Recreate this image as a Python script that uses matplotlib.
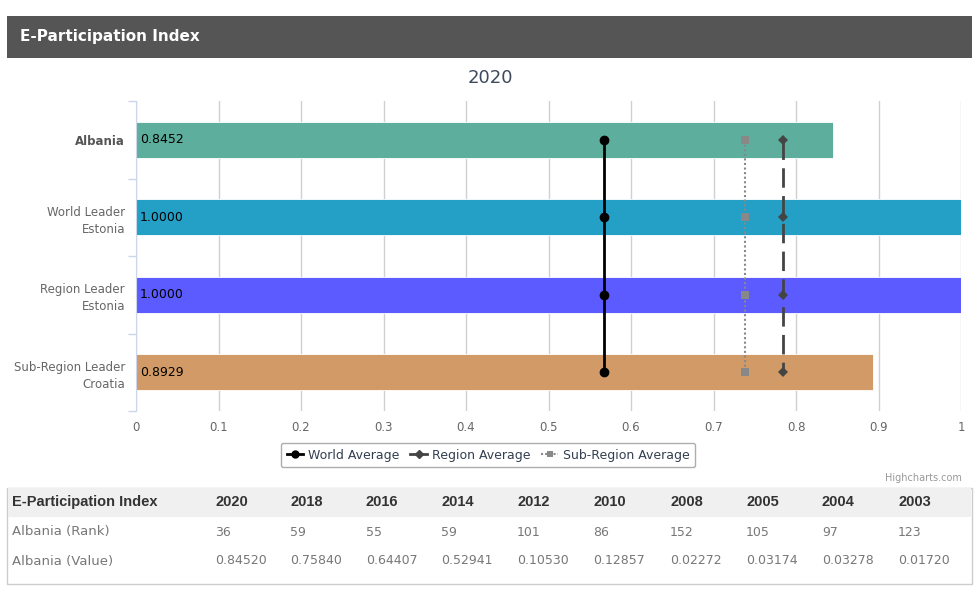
import matplotlib.pyplot as plt
from matplotlib.patches import Rectangle
from matplotlib.lines import Line2D

# datos del grafico
categorias = ["Albania", "World Leader\nEstonia", "Region Leader\nEstonia", "Sub-Region Leader\nCroatia"]
valores = [0.8452, 1.0000, 1.0000, 0.8929]
colores = ["#5EAE9D", "#24A0C6", "#5B5BFF", "#D19A66"]
prom_mundo = [0.567, 0.567, 0.567, 0.567]
prom_region = [0.784, 0.784, 0.784, 0.784]
prom_subregion = [0.738, 0.738, 0.738, 0.738]

# datos de la tabla
anios = ["2020", "2018", "2016", "2014", "2012", "2010", "2008", "2005", "2004", "2003"]
rank = ["36", "59", "55", "59", "101", "86", "152", "105", "97", "123"]
valor = ["0.84520", "0.75840", "0.64407", "0.52941", "0.10530", "0.12857", "0.02272", "0.03174", "0.03278", "0.01720"]

W, H = 980, 591
fig = plt.figure(figsize=(W / 100, H / 100), dpi=100)

def fx(px):
    return px / W

def fy(py):
    return 1 - py / H

# barra de titulo
fig.patches.append(Rectangle((fx(7), fy(58)), fx(965), 42 / H, transform=fig.transFigure,
                             facecolor="#555555", edgecolor="none"))
fig.text(fx(20), fy(37), "E-Participation Index", color="white", fontsize=11,
         fontweight="bold", va="center", ha="left", family="DejaVu Sans")
fig.text(fx(490), fy(78), "2020", color="#3d4a5c", fontsize=13, ha="center", va="center")

# ejes
ax = fig.add_axes([fx(136), fy(411), fx(825), 310 / H])
ypos = list(range(len(categorias)))
ax.barh(ypos, valores, height=0.465, color=colores, edgecolor="white", linewidth=0.6, zorder=2)
for y, v in zip(ypos, valores):
    ax.text(0.005, y, "%.4f" % v, va="center", ha="left", fontsize=9, color="black", zorder=5)

ax.plot(prom_subregion, ypos, color="#888888", linestyle=(0, (1, 1.2)), linewidth=1.5,
        marker="s", markersize=6, markeredgewidth=0, zorder=3)
ax.plot(prom_region, ypos, color="#444444", linestyle=(0, (7, 3)), linewidth=2,
        marker="D", markersize=5, markeredgewidth=0, zorder=3)
ax.plot(prom_mundo, ypos, color="black", linewidth=2, marker="o", markersize=6, zorder=4)

ax.set_xlim(0, 1)
ax.set_ylim(3.5, -0.5)
ax.set_xticks([i / 10 for i in range(11)])
ax.set_xticklabels(["0", "0.1", "0.2", "0.3", "0.4", "0.5", "0.6", "0.7", "0.8", "0.9", "1"])
ax.set_yticks(ypos)
ax.set_yticklabels(categorias, linespacing=1.4)
ax.set_yticks([-0.5, 0.5, 1.5, 2.5, 3.5], minor=True)
ax.tick_params(axis="x", length=0, labelsize=8.5, labelcolor="#666666", pad=7)
ax.tick_params(axis="y", which="major", length=0, labelsize=8.5, labelcolor="#666666", pad=8)
ax.tick_params(axis="y", which="minor", length=6, color="#ccd6eb", width=1)
for lab in ax.get_yticklabels():
    lab.set_horizontalalignment("right")
ax.get_yticklabels()[0].set_fontweight("bold")
ax.get_yticklabels()[0].set_color("#555555")
ax.grid(axis="x", color="#d0d0d0", linewidth=1, zorder=0)
ax.set_axisbelow(True)
for s in ["top", "right", "bottom"]:
    ax.spines[s].set_visible(False)
ax.spines["left"].set_color("#ccd6eb")

# leyenda
handles = [
    Line2D([], [], color="black", linewidth=2, marker="o", markersize=5),
    Line2D([], [], color="#444444", linewidth=2, marker="D", markersize=4),
    Line2D([], [], color="#888888", linestyle=(0, (1, 1)), linewidth=1.5, marker="s", markersize=5, markeredgewidth=0),
]
leg = fig.legend(handles, ["World Average", "Region Average", "Sub-Region Average"],
                 loc="center", bbox_to_anchor=(fx(488), fy(455)), ncol=3, fontsize=9,
                 frameon=True, handlelength=1.3, columnspacing=0.9, handletextpad=0.4,
                 borderpad=0.45, borderaxespad=0, fancybox=True)
leg.get_frame().set_edgecolor("#999999")
leg.get_frame().set_linewidth(1)
for t in leg.get_texts():
    t.set_color("#333f50")

fig.text(fx(962), fy(478), "Highcharts.com", fontsize=7, color="#999999", ha="right", va="center")

# tabla
fig.patches.append(Rectangle((fx(7), fy(584)), fx(965), 96 / H, transform=fig.transFigure,
                             facecolor="white", edgecolor="#cccccc", linewidth=1))
fig.patches.append(Rectangle((fx(8), fy(517)), fx(963), 29 / H, transform=fig.transFigure,
                             facecolor="#f0f0f0", edgecolor="none"))
col_x = [215, 290, 366, 441, 517, 593, 670, 746, 822, 898]
fig.text(fx(12), fy(502), "E-Participation Index", fontsize=10.5, fontweight="bold",
         color="#333333", va="center", family="Liberation Sans")
fig.text(fx(12), fy(532), "Albania (Rank)", fontsize=9.5, color="#777777", va="center")
fig.text(fx(12), fy(561), "Albania (Value)", fontsize=9.5, color="#777777", va="center")
for x, a, r, v in zip(col_x, anios, rank, valor):
    fig.text(fx(x), fy(502), a, fontsize=10.5, fontweight="bold", color="#333333",
             va="center", family="Liberation Sans")
    fig.text(fx(x), fy(532), r, fontsize=9, color="#777777", va="center")
    fig.text(fx(x), fy(561), v, fontsize=9, color="#777777", va="center")

fig.savefig("out.png", dpi=100)
